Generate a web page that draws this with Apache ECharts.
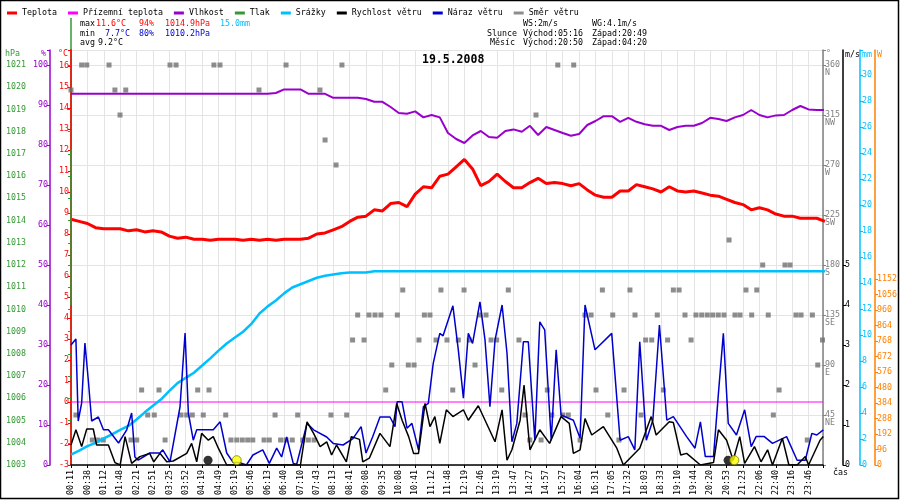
<!DOCTYPE html>
<html>
<head>
<meta charset="utf-8">
<title>19.5.2008</title>
<script src="https://cdn.jsdelivr.net/npm/echarts@6.0.0/dist/echarts.min.js"></script>
</head>
<body style="margin:0">
<div id="main" style="width:900px;height:500px;"></div>
<script type="text/javascript">
// time labels under the axis (one per sample block)
var times = ['00:11','00:38','01:12','01:48','02:21','02:51','03:25','03:52','04:19','04:49',
  '05:19','05:46','06:13','06:40','07:10','07:43','08:13','08:41','09:08','09:35',
  '10:08','10:41','11:12','11:48','12:19','12:46','13:19','13:47','14:27','14:57',
  '15:27','16:04','16:31','17:05','17:32','18:03','18:33','19:10','19:44','20:20',
  '20:53','21:23','22:06','22:40','23:16','23:46'];

// values every half label step
var STEP = 0.5;
var teplota = [8.7,8.6,8.5,8.3,8.25,8.25,8.25,8.15,8.2,8.1,
  8.15,8.1,7.9,7.8,7.85,7.75,7.75,7.7,7.75,7.75,
  7.75,7.7,7.75,7.7,7.75,7.7,7.75,7.75,7.75,7.8,
  8.0,8.05,8.2,8.35,8.6,8.8,8.85,9.15,9.1,9.45,
  9.5,9.3,9.9,10.25,10.2,10.75,10.85,11.2,11.55,11.1,
  10.3,10.5,10.85,10.5,10.2,10.2,10.45,10.65,10.4,10.45,
  10.4,10.3,10.4,10.1,9.85,9.75,9.75,10.05,10.05,10.35,
  10.25,10.15,10.0,10.25,10.05,10.0,10.05,9.95,9.85,9.8,
  9.65,9.5,9.4,9.15,9.25,9.15,8.95,8.85,8.85,8.75,
  8.75,8.75,8.6];
var vlhkost = [92.8,92.8,92.8,92.8,92.8,92.8,92.8,92.8,92.8,92.8,
  92.8,92.8,92.8,92.8,92.8,92.8,92.8,92.8,92.8,92.8,
  92.8,92.8,92.8,92.8,92.8,93.0,93.9,93.9,93.9,92.8,
  92.8,92.8,91.8,91.8,91.8,91.8,91.5,90.8,90.8,89.5,
  88.0,87.8,88.4,86.9,87.5,86.9,83.0,81.5,80.5,82.4,
  83.5,82.0,81.8,83.5,83.9,83.3,84.8,82.5,84.5,83.75,
  83.0,82.3,82.75,85.0,86.0,87.2,87.2,85.8,86.8,85.8,
  85.2,84.8,84.8,83.75,84.5,84.8,84.8,85.5,86.8,86.5,
  86.0,86.9,87.5,88.75,87.5,86.9,87.4,87.5,88.75,89.75,
  88.9,88.75,88.75];
var srazky = [0.8,1.1,1.45,1.7,2.05,2.35,2.7,3.0,3.5,4.05,
  4.55,5.05,5.7,6.3,6.7,7.1,7.65,8.2,8.8,9.35,
  9.8,10.25,10.85,11.65,12.2,12.65,13.2,13.65,13.9,14.15,
  14.4,14.55,14.65,14.75,14.8,14.8,14.8,14.9,14.9,14.9,
  14.9,14.9,14.9,14.9,14.9,14.9,14.9,14.9,14.9,14.9,
  14.9,14.9,14.9,14.9,14.9,14.9,14.9,14.9,14.9,14.9,
  14.9,14.9,14.9,14.9,14.9,14.9,14.9,14.9,14.9,14.9,
  14.9,14.9,14.9,14.9,14.9,14.9,14.9,14.9,14.9,14.9,
  14.9,14.9,14.9,14.9,14.9,14.9,14.9,14.9,14.9,14.9,
  14.9,14.9,14.9];

// wind is irregular, position in label steps
var narazPos = [0,0.3,0.44,0.65,0.85,1.06,1.26,1.67,1.98,2.28,2.9,3.4,3.7,3.9,4.1,4.8,5.43,5.6,6.04,6.65,
  6.96,7.16,7.46,7.67,8.68,9.1,9.5,9.9,10.3,10.7,11.1,11.7,12.1,12.55,12.85,13.16,13.56,13.77,14.4,14.8,
  15.6,16.0,16.6,17.2,17.7,18.0,18.4,18.85,19.46,19.77,19.9,20.2,20.5,20.8,21.2,21.5,21.8,22.1,22.5,22.7,
  23.3,23.63,23.94,24.24,24.5,24.95,25.26,25.56,25.87,26.3,26.6,26.9,27.2,27.6,27.9,28.3,28.6,28.9,29.3,29.6,
  29.9,30.65,31.06,31.36,31.97,32.99,33.5,34.0,34.4,34.7,35.1,35.5,35.9,36.35,36.75,37.56,38.07,38.4,38.7,39.2,
  39.5,39.8,40.1,40.6,41.1,41.5,41.8,42.3,42.8,43.66,44.3,44.8,45.2,45.5,45.9];
var naraz = [3.0,3.15,1.1,1.55,3.05,2.1,1.1,1.2,0.88,0.88,0.55,0.88,1.3,0.2,0.12,0.3,0.3,0.38,0.08,1.45,
  3.3,1.3,0.62,0.88,0.88,1.08,0.3,0.06,0.06,0,0.25,0.38,0.04,0.42,0.2,0.7,0.04,0.02,1.04,0.88,
  0.7,0.54,0.5,0.66,0.96,0.3,0.7,1.2,1.2,0.96,1.58,1.58,0.92,1.04,0.38,1.46,1.54,2.54,3.29,3.23,
  3.98,2.88,1.67,3.29,3.04,4.08,3.12,1.46,3.12,4.0,2.8,0.58,1.04,3.08,3.08,0.62,3.58,3.38,0.62,2.88,
  1.25,1.12,0.67,4.0,2.88,3.29,0.62,0.71,0.38,3.08,0.62,1.12,3.5,1.12,1.21,0.71,0.42,1.08,0.21,0.21,
  1.79,3.29,1.04,0.75,1.38,0.46,0.71,0.71,0.54,0.71,0.12,0.12,0.79,0.75,0.88];
var rychlostPos = [0,0.3,0.65,0.96,1.36,1.56,2.28,2.68,3.0,3.3,3.7,4.2,4.8,5.05,5.43,5.84,6.24,7.06,7.36,7.67,
  7.97,8.38,8.68,8.99,9.5,14.0,14.4,14.8,15.2,15.6,15.9,16.2,16.8,17.1,17.6,17.8,18.2,18.85,19.46,19.87,
  20.2,20.6,20.9,21.2,21.6,21.9,22.2,22.5,22.9,23.3,23.94,24.24,24.85,25.87,26.3,26.6,26.9,27.4,27.64,28.0,
  28.6,29.2,29.9,30.4,30.65,31.06,31.36,31.77,32.48,33.3,33.7,34.7,35.4,35.7,36.5,36.75,37.2,37.56,38.4,39.2,
  39.5,40.0,40.4,40.8,41.1,41.7,42.1,42.5,42.8,43.4,43.8,44.3,44.8,45.0,45.7,45.9];
var rychlost = [0.5,0.88,0.46,0.9,0.9,0.5,0.5,0.06,0,0.71,0.04,0.21,0.29,0.08,0.29,0.08,0.1,0.29,0.54,0.08,
  0.79,0.62,0.71,0.42,0,0,1.08,0.79,0.46,0.58,0.25,0.5,0.08,0.71,0.64,0.08,0.17,0.79,0.46,1.54,
  1.12,0.71,0.29,0.29,1.54,0.96,1.21,0.54,1.38,1.21,1.38,1.12,1.48,0.58,1.38,0.12,0.38,1.12,2.0,0.38,
  0.88,0.54,1.21,1.04,0.29,0.38,1.16,0.75,0.96,0.42,0,0.42,1.21,0.75,1.08,1.06,0.25,0.29,0,0.06,
  0.88,0.62,0.12,0.71,0.04,0.46,0.08,0.38,0,0.67,0,0,0.21,0,0.62,0.71];

// wind direction samples (degrees)
var smerPos = [0.65,0.96,2.32,6.04,6.41,8.72,9.09,13.12,16.53,29.7,30.67,
  0,2.68,3.34,11.47,15.19,
  2.99,28.37,15.5,16.17,40.15,42.2,43.56,43.87,
  20.24,22.57,23.98,26.68,32.42,34.1,36.75,37.1,41.18,41.84,
  17.49,18.18,18.55,18.91,19.91,21.56,21.9,24.95,25.32,31.36,31.73,33.05,34.41,35.77,37.46,38.13,38.48,38.82,39.15,39.49,39.84,40.51,40.82,41.53,42.54,44.23,44.54,45.23,
  17.18,17.88,21.23,22.27,22.94,23.63,24.3,25.63,25.97,27.33,35.06,35.43,36.4,37.83,45.85,
  19.57,20.58,20.93,24.65,45.56,
  4.31,5.37,7.73,8.42,19.2,23.29,26.28,29.06,32.03,33.74,36.14,43.2,
  0.3,4.68,5.08,6.71,7.06,7.4,8.07,9.44,12.45,13.83,15.86,16.82,27.7,29.33,30.0,30.34,32.75,34.78,42.85,
  1.3,1.63,1.97,3.66,4.01,5.74,9.76,10.11,10.45,10.78,11.09,11.78,12.1,12.79,13.12,13.5,14.14,14.48,14.83,27.99,28.68,31.06,33.43,44.92];
var smer = [360,360,360,360,360,360,360,360,360,360,360,
  337.5,337.5,337.5,337.5,337.5,
  315,315,292.5,270,202.5,180,180,180,
  157.5,157.5,157.5,157.5,157.5,157.5,157.5,157.5,157.5,157.5,
  135,135,135,135,135,135,135,135,135,135,135,135,135,135,135,135,135,135,135,135,135,135,135,135,135,135,135,135,
  112.5,112.5,112.5,112.5,112.5,112.5,112.5,112.5,112.5,112.5,112.5,112.5,112.5,112.5,112.5,
  90,90,90,90,90,
  67.5,67.5,67.5,67.5,67.5,67.5,67.5,67.5,67.5,67.5,67.5,67.5,
  45,45,45,45,45,45,45,45,45,45,45,45,45,45,45,45,45,45,45,
  22.5,22.5,22.5,22.5,22.5,22.5,22.5,22.5,22.5,22.5,22.5,22.5,22.5,22.5,22.5,22.5,22.5,22.5,22.5,22.5,22.5,22.5,22.5,22.5];

// pressure trace only shows at the left edge
var tlakPos = [0, 0];
var tlak = [1017.2, 1010.2];
var prizemniPos = [0, 45.88];
var prizemni = [0, 0];

// sun / moon events: moonset, sunrise, moonrise, sunset
var astroPos = [8.36, 10.11, 40.09, 40.47];
var astroKind = ['moon', 'sun', 'moon', 'sun'];

// labelled ticks on the right-hand scales
var windTicks = [0, 1, 2, 3, 4, 5];
var radTicks = [0, 96, 192, 288, 384, 480, 576, 672, 768, 864, 960, 1056, 1152];

var dirNames = {360: 'N', 315: 'NW', 270: 'W', 225: 'SW', 180: 'S', 135: 'SE', 90: 'E', 45: 'NE'};

function pairs(pos, vals) {
    return vals.map(function (v, i) { return [pos[i], v]; });
}
function stepped(vals) {
    return vals.map(function (v, i) { return [i * STEP, v]; });
}
function isInt(v) { return Math.abs(v - Math.round(v)) < 1e-6; }

var FONT = 'DejaVu Sans Mono';
var myChart = echarts.init(document.getElementById('main'));

function infoText(x, y, s, color) {
    return { type: 'text', left: x, top: y, style: { text: s, fill: color || '#000', font: '8.3px "' + FONT + '"' } };
}

function yAxisDef(pos, color, offset, min, max, interval, fmt, extra) {
    var ax = {
        type: 'value', position: pos, offset: offset, min: min, max: max, interval: interval,
        axisLine: { show: true, lineStyle: { color: color, width: 1.5 } },
        axisTick: { show: true, length: 3, lineStyle: { color: color } },
        axisLabel: { color: color, fontSize: 8.3, fontFamily: FONT, margin: 2, formatter: fmt },
        splitLine: { show: false }
    };
    if (extra) {
        for (var k in extra) {
            if (typeof extra[k] === 'object' && ax[k]) {
                for (var j in extra[k]) { ax[k][j] = extra[k][j]; }
            } else {
                ax[k] = extra[k];
            }
        }
    }
    return ax;
}

var option = {
    animation: false,
    backgroundColor: '#ffffff',
    textStyle: { fontFamily: FONT },
    title: {
        text: '19.5.2008', left: 417, top: 49,
        textStyle: { fontSize: 11.5, fontWeight: 'bold', fontFamily: FONT, color: '#000' }
    },
    legend: {
        left: 2, top: 4, icon: 'rect', itemWidth: 10, itemHeight: 3, itemGap: 11,
        textStyle: { fontSize: 8.3, fontFamily: FONT, color: '#000' },
        data: ['Teplota', 'Přízemní teplota', 'Vlhkost', 'Tlak', 'Srážky', 'Rychlost větru', 'Náraz větru', 'Směr větru']
    },
    graphic: [
        { type: 'rect', shape: { x: 0.5, y: 0.5, width: 898, height: 498 }, style: { fill: 'none', stroke: '#000', lineWidth: 1.5 } },
        { type: 'line', shape: { x1: 71, y1: 18, x2: 71, y2: 50 }, style: { stroke: '#339933', lineWidth: 1.5 } },
        infoText(80, 20, 'max'), infoText(96, 20, '11.6°C', '#ff0000'), infoText(139, 20, '94%', '#ff0000'),
        infoText(165, 20, '1014.9hPa', '#ff0000'), infoText(220, 20, '15.0mm', '#00bfff'),
        infoText(80, 30, 'min'), infoText(105, 30, '7.7°C', '#0000cc'), infoText(139, 30, '80%', '#0000cc'),
        infoText(165, 30, '1010.2hPa', '#0000cc'),
        infoText(80, 39, 'avg'), infoText(98, 39, '9.2°C'),
        infoText(523, 20, 'WS:2m/s'), infoText(592, 20, 'WG:4.1m/s'),
        infoText(487, 30, 'Slunce'), infoText(523, 30, 'Východ:05:16'), infoText(592, 30, 'Západ:20:49'),
        infoText(490, 39, 'Měsíc'), infoText(523, 39, 'Východ:20:50'), infoText(592, 39, 'Západ:04:20'),
        // axis names
        infoText(5, 50, 'hPa', '#339933'), infoText(41, 50, '%', '#9900cc'), infoText(58, 50, '°C', '#ff0000'),
        infoText(826, 50, '°', '#808080'), infoText(845, 51, 'm/s', '#000000'),
        infoText(862, 51, 'mm', '#00bfff'), infoText(877, 51, 'W', '#ff8000'),
        infoText(833, 469, 'čas', '#000000')
    ],
    grid: { left: 71, right: 77, top: 50, bottom: 35 },
    xAxis: {
        type: 'value', min: 0, max: 45.88, interval: 1,
        axisLine: { lineStyle: { color: '#000', width: 1.5 } },
        axisTick: { length: 3, lineStyle: { color: '#000' } },
        axisLabel: {
            rotate: 90, fontSize: 8.3, fontFamily: FONT, color: '#000', margin: 5,
            formatter: function (v) { return isInt(v) && times[Math.round(v)] ? times[Math.round(v)] : ''; }
        },
        splitLine: { show: true, lineStyle: { color: '#e4e4e4' } }
    },
    yAxis: [
        yAxisDef('left', '#339933', 43, 1003, 1021.675, 1, function (v) { return isInt(v) ? v : ''; }),
        yAxisDef('left', '#9900cc', 21, 0, 103.75, 10, function (v) { return isInt(v / 10) ? v : ''; }),
        yAxisDef('left', '#ff0000', 0, -3, 16.762, 1, function (v) { return isInt(v) ? v : ''; }),
        yAxisDef('right', '#808080', 0, 0, 373.5, 45, function (v) {
            return dirNames[v] ? '\n' + v + '\n' + dirNames[v] : '';
        }, { splitLine: { show: true, lineStyle: { color: '#e4e4e4' } } }),
        yAxisDef('right', '#000000', 20, 0, 10.375, 1, function (v) { return (isInt(v) && v <= 5) ? v : ''; },
            { axisTick: { customValues: windTicks }, axisLabel: { customValues: windTicks } }),
        yAxisDef('right', '#00bfff', 37, 0, 31.92, 2, function (v) { return (isInt(v / 2) && v <= 30) ? v : ''; }),
        yAxisDef('right', '#ff8000', 52, 0, 2570, 96, function (v) { return (isInt(v / 96) && v <= 1152) ? v : ''; },
            { axisTick: { customValues: radTicks }, axisLabel: { customValues: radTicks } })
    ],
    series: [
        {
            name: 'Směr větru', type: 'scatter', xAxisIndex: 0, yAxisIndex: 3,
            symbol: 'rect', symbolSize: 5, itemStyle: { color: '#707070' },
            data: pairs(smerPos, smer), z: 1
        },
        {
            name: 'Přízemní teplota', type: 'line', yAxisIndex: 2, showSymbol: false,
            lineStyle: { color: '#ff00ff', width: 1 }, itemStyle: { color: '#ff00ff' },
            data: pairs(prizemniPos, prizemni)
        },
        {
            name: 'Srážky', type: 'line', yAxisIndex: 5, showSymbol: false,
            lineStyle: { color: '#00bfff', width: 2.5 }, itemStyle: { color: '#00bfff' },
            data: stepped(srazky)
        },
        {
            name: 'Vlhkost', type: 'line', yAxisIndex: 1, showSymbol: false,
            lineStyle: { color: '#9900cc', width: 2 }, itemStyle: { color: '#9900cc' },
            data: stepped(vlhkost)
        },
        {
            name: 'Teplota', type: 'line', yAxisIndex: 2, showSymbol: false,
            lineStyle: { color: '#ff0000', width: 3 }, itemStyle: { color: '#ff0000' },
            data: stepped(teplota)
        },
        {
            name: 'Tlak', type: 'line', yAxisIndex: 0, showSymbol: false, clip: false,
            lineStyle: { color: '#339933', width: 1.5 }, itemStyle: { color: '#339933' },
            data: pairs(tlakPos, tlak)
        },
        {
            name: 'Náraz větru', type: 'line', yAxisIndex: 4, showSymbol: false,
            lineStyle: { color: '#0000cc', width: 1.5 }, itemStyle: { color: '#0000cc' },
            data: pairs(narazPos, naraz)
        },
        {
            name: 'Rychlost větru', type: 'line', yAxisIndex: 4, showSymbol: false,
            lineStyle: { color: '#000000', width: 1.5 }, itemStyle: { color: '#000000' },
            data: pairs(rychlostPos, rychlost)
        },
        {
            name: 'astro', type: 'scatter', yAxisIndex: 4, symbolSize: 9, z: 5,
            data: astroPos.map(function (p, i) {
                var sun = astroKind[i] === 'sun';
                return {
                    value: [p, 0.12],
                    itemStyle: sun ? { color: '#ffff00', borderColor: '#808000', borderWidth: 1 } : { color: '#000000' }
                };
            })
        }
    ]
};

myChart.setOption(option);
</script>
</body>
</html>
